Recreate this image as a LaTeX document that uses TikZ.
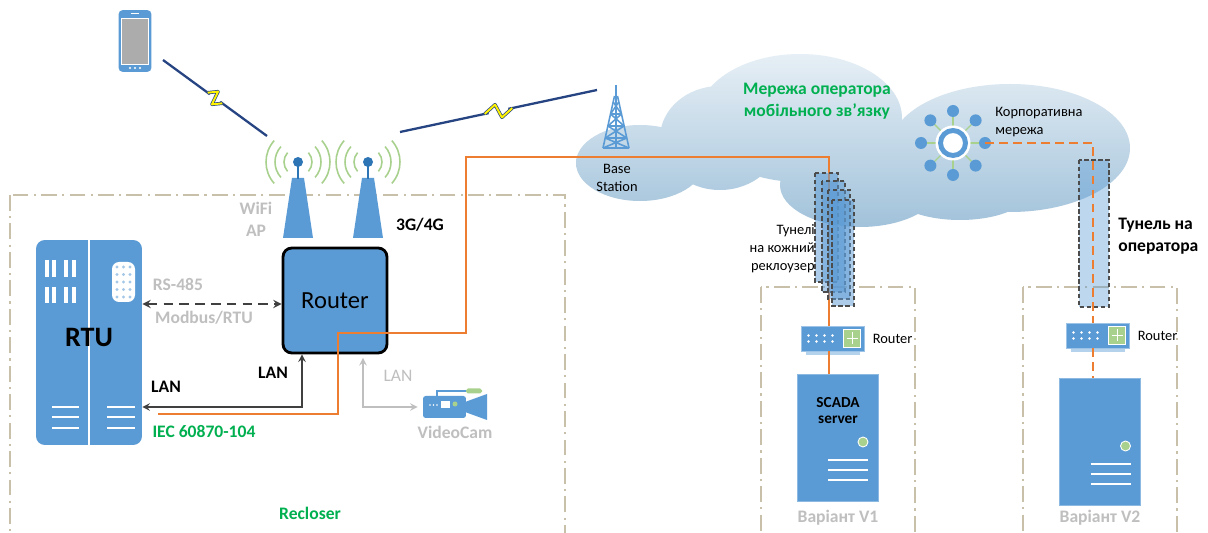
\documentclass[tikz,border=0pt]{standalone}
\usepackage{fontspec}
\setmainfont{Carlito}
\usepackage{tikz}
\usetikzlibrary{shapes, calc}
\definecolor{iconblue}{RGB}{91, 155, 213}
\definecolor{deepblue}{RGB}{46, 117, 182}
\definecolor{navy}{RGB}{38, 68, 130}
\definecolor{leaf}{RGB}{0, 176, 80}
\definecolor{paleleaf}{RGB}{169, 209, 142}
\definecolor{faint}{RGB}{191, 191, 191}
\definecolor{fiber}{RGB}{237, 125, 49}
\definecolor{frame}{RGB}{200, 192, 168}
\definecolor{cloudtop}{RGB}{232, 240, 246}
\definecolor{cloudbot}{RGB}{158, 192, 217}
\newcommand*{\px}{0.02cm}
\newcommand*{\lblfont}{\fontsize{10}{12.5}\selectfont}
\newcommand*{\smallfont}{\fontsize{8.2}{10.2}\selectfont}
% radio link with a spark in the middle
\newcommand*{\bolt}[2]{%
  \draw[signal] (#1) -- ($(#1)!0.45!(#2)$);
  \draw[signal] ($(#1)!0.55!(#2)$) -- (#2);
  \draw[spark] ($(#1)!0.43!(#2)$) -- ($(#1)!0.49!(#2)!0.14cm!90:(#2)$)
    -- ($(#1)!0.51!(#2)!0.14cm!-90:(#2)$) -- ($(#1)!0.57!(#2)$);
}

\begin{document}
\begin{tikzpicture}[
   x=\px, y=-\px,
   lbl/.style={font=\lblfont\bfseries, inner sep=0},
   faintlbl/.style={lbl, text=faint},
   greenlbl/.style={lbl, text=leaf},
   small/.style={font=\smallfont, inner sep=0},
   recframe/.style={draw=frame, line width=0.9pt,
                    dash pattern=on 9pt off 3pt on 1.2pt off 3pt},
   fiber/.style={draw=fiber, line width=0.9pt},
   fiberdash/.style={draw=fiber, line width=1.1pt, dash pattern=on 5pt off 3pt},
   serial/.style={draw=black!75, line width=1.1pt, dash pattern=on 5.5pt off 3.5pt,
                  <->, >=stealth},
   lan/.style={draw=black!75, line width=0.9pt, <->, >=stealth},
   lanfaint/.style={draw=faint, line width=0.9pt, <->, >=stealth},
   signal/.style={draw=navy, line width=1.3pt},
   spark/.style={draw=navy, double=yellow, double distance=1.1pt, line width=0.4pt,
                 line join=round},
   radio/.style={draw=paleleaf, line width=0.9pt},
   tunnel/.style={draw=black!70, line width=0.8pt, dash pattern=on 2.5pt off 1.5pt,
                  fill=iconblue, fill opacity=0.5},
   rtubox/.style={rectangle, rounded corners=5pt, fill=iconblue,
                  minimum width=2.12cm, minimum height=4.1cm},
   rtrbox/.style={rectangle, rounded corners=5pt, draw=black, line width=1.6pt,
                  fill=iconblue, minimum width=2.08cm, minimum height=2.1cm,
                  font=\fontsize{14}{16}\selectfont},
   rtricon/.style={rectangle, fill=iconblue, draw=iconblue!60!white, line width=0.4pt,
                   minimum width=1.26cm, minimum height=0.5cm},
   server/.style={rectangle, fill=iconblue, draw=iconblue!70!white, line width=0.4pt,
                  minimum width=1.62cm, minimum height=2.54cm},
   camera/.style={rectangle, rounded corners=1.5pt, fill=iconblue,
                  minimum width=0.86cm, minimum height=0.44cm},
   handset/.style={rectangle, rounded corners=2.5pt, fill=iconblue,
                   minimum width=0.66cm, minimum height=1.24cm},
   sat/.style={circle, fill=iconblue, minimum size=0.24cm, inner sep=0}
  ]

  \useasboundingbox (0,0) rectangle (1208,533);
  \clip (0,0) rectangle (1208,533);
  \fill[white] (0,0) rectangle (1208,533);

  % operator cloud
  \begin{scope}
    \clip (640,163) ellipse [x radius=64, y radius=38]
          (720,138) ellipse [x radius=60, y radius=52]
          (800,118) ellipse [x radius=102, y radius=64]
          (860,185) ellipse [x radius=80, y radius=42]
          (1010,148) ellipse [x radius=120, y radius=64]
          (960,190) ellipse [x radius=70, y radius=30];
    \shade[top color=cloudtop, bottom color=cloudbot] (570,50) rectangle (1140,235);
  \end{scope}

  % sites
  \draw[recframe] (10,195) rectangle (565,560);
  \draw[recframe] (761,287) rectangle (915,560);
  \draw[recframe] (1023,287) rectangle (1177,560);

  % phone
  \node (phone) at (135,41) [handset] {};
  \fill[gray!65, draw=white, line width=0.5pt] (121,18) rectangle (148,64);
  \draw[white, line width=0.8pt] (131,13.5) -- (139,13.5);
  \foreach \dx in {130,135,140} \fill[white] (\dx,68) circle (1.1);

  % antennas
  \coordinate (wifiant) at (298,162);
  \coordinate (cellant) at (368,162);
  \foreach \ax in {298, 368} {
    \foreach \r in {14, 23, 32} {
      \draw[radio] (\ax,162) ++(-42:\r) arc[start angle=-42, end angle=42, radius=\r];
      \draw[radio] (\ax,162) ++(138:\r) arc[start angle=138, end angle=222, radius=\r];
    }
    \fill[iconblue] (\ax-6,178) -- (\ax+6,178) -- (\ax+15,238) -- (\ax-15,238) -- cycle;
    \draw[deepblue, line width=1.5pt] (\ax,162) -- (\ax,179);
    \fill[deepblue] (\ax,162) circle (5);
  }

  % base station
  \coordinate (bs) at (616,88);
  \begin{scope}[shift={(616,88)}, iconblue, line width=0.9pt]
    \draw (0,-3) -- (0,60);
    \draw (-1.5,8) -- (-13,60) (1.5,8) -- (13,60);
    \foreach \ya/\wa/\yb/\wb in {14/2.8/26/5.5, 26/5.5/38/8.1,
                                 38/8.1/50/10.8, 50/10.8/60/13} {
      \draw (-\wa,\ya) -- (\wb,\yb) (\wa,\ya) -- (-\wb,\yb) (-\wb,\yb) -- (\wb,\yb);
    }
  \end{scope}

  \coordinate (phonesig) at (163,60);
  \coordinate (wifisig) at (267,136);
  \coordinate (cellsig) at (400,132);
  \coordinate (bssig) at (597,90);
  \bolt{phonesig}{wifisig}
  \bolt{cellsig}{bssig}

  % RTU
  \node (rtu) at (89,342.5) [rtubox] {};
  \draw[white, line width=0.8pt] (89,240) -- (89,445);
  \foreach \bx in {47,54,66,74} {
    \draw[white, line width=1.8pt] (\bx,260) -- (\bx,277) (\bx,287) -- (\bx,303);
  }
  \fill[white, rounded corners=4pt] (112,262) rectangle (135,302);
  \foreach \i in {0,1,2} \foreach \j in {0,...,4} {
    \fill[iconblue!55] (117+\i*6.5,267+\j*7.5) circle (1.6);
  }
  \foreach \yy in {407,417,428} {
    \draw[white, line width=1.4pt] (52,\yy) -- (79,\yy) (107,\yy) -- (135,\yy);
  }
  \node (rtulbl) at (89,337) [font=\fontsize{16}{18}\selectfont\bfseries] {RTU};

  % router
  \node (rtr) at (335,300.5) [rtrbox] {Router};

  % camera
  \node (cam) at (444.5,407) [camera] {};
  \fill[iconblue] (465,402) -- (487,394) -- (487,420) -- (465,412) -- cycle;
  \draw[iconblue, line width=0.6pt] (437,396) -- (437,391) -- (467,391);
  \fill[paleleaf, rounded corners=1pt] (466,388.5) rectangle (482,393.5);
  \foreach \dx in {430,433.5,437} \fill[white] (\dx,405) circle (0.9);
  \fill[white] (441,401) rectangle (450,408);
  \fill[paleleaf] (455,404) circle (2.5);

  % corporate network
  \coordinate (hubc) at (953,143);
  \foreach \a [count=\k] in {0,45,...,315} {
    \draw[paleleaf, line width=0.8pt] (hubc) -- ++(\a:32);
    \node (sat\k) at ([shift={(\a:32)}]hubc) [sat] {};
  }
  \fill[white] (hubc) circle (17.5);
  \node (hub) at (hubc) [circle, draw=iconblue, line width=2.8pt, fill=white,
                         minimum size=0.5cm] {};

  % links
  \coordinate (rtuport) at (158,414);
  \draw[fiber] (rtuport) -| (338,333) -| (466,157) -| (829,330);
  \draw[serial] (rtu.east |- 0,304) -- (rtr.west |- 0,304);
  \draw[lan] (rtr.south -| 302,0) |- (rtu.east |- 0,407);
  \draw[lanfaint, shorten <=2pt] (rtr.south -| 363,0) |- ([xshift=-5*\px]cam.west);

  % tunnels
  \foreach \xa/\ya/\xb/\yb in {815/173/838/282, 822/181/845/292,
                               828/190/850/299, 832/200/854/306} {
    \draw[tunnel] (\xa,\ya) rectangle (\xb,\yb);
  }
  \draw[tunnel, fill opacity=0.4] (1079,160) rectangle (1109,307);

  % control centres
  \foreach \nm/\cx/\cy in {rtv1/832.5/338.5, rtv2/1097.5/335.5} {
    \node (\nm) at (\cx,\cy) [rtricon] {};
    \foreach \i in {0,...,3} {
      \fill[white] (\cx-24+\i*8,\cy-3) circle (1.3);
      \fill[white] (\cx-24+\i*8,\cy+3) circle (1.3);
    }
    \fill[paleleaf, draw=white, line width=0.4pt] (\cx+11,\cy-9) rectangle (\cx+28,\cy+9);
    \draw[white, line width=0.4pt] (\cx+14,\cy) -- (\cx+25,\cy)
                                   (\cx+19.5,\cy-6) -- (\cx+19.5,\cy+6);
    \draw[iconblue!45, line width=1.2pt] (\cx-27,\cy+15) -- (\cx+27,\cy+15);
    \node (lbl\nm) at (\cx+40,\cy) [small, anchor=west] {Router};
  }
  \foreach \nm/\cx/\cy in {srv1/837.5/437.5, srv2/1100/441.5} {
    \node (\nm) at (\cx,\cy) [server] {};
    \fill[paleleaf, draw=white, line width=0.5pt] (\cx+25.5,\cy+4.5) circle (5);
    \foreach \dy in {22.5,32.5,42.5} {
      \draw[white, line width=1.2pt] (\cx-9.5,\cy+\dy) -- (\cx+30.5,\cy+\dy);
    }
  }
  \draw[fiber] (rtv1.south -| 829,0) -- (srv1.north -| 829,0);
  \draw[fiberdash] (sat1.center) -| (rtv2.north -| 1093,0);
  \draw[fiberdash] (rtv2.south -| 1093,0) -- (srv2.north -| 1093,0);

  % labels
  \node (wifilbl) at (256,219) [faintlbl, align=center] {WiFi\\AP};
  \node (celllbl) at (420,225) [lbl] {3G/4G};
  \node (rslbl) at (178,285) [faintlbl] {RS-485};
  \node (mblbl) at (204,318) [faintlbl] {Modbus/RTU};
  \node (lanrtr) at (273,373) [lbl] {LAN};
  \node (lanrtu) at (166,387) [lbl] {LAN};
  \node (lancam) at (398,376) [faintlbl, font=\lblfont] {LAN};
  \node (iec) at (204,432) [greenlbl] {IEC 60870-104};
  \node (camlbl) at (455,432) [faintlbl] {VideoCam};
  \node (reclbl) at (310,513) [greenlbl] {Recloser};
  \node (bslbl) at (617,178) [small, align=center] {Base\\Station};
  \node (netlbl) at (817,101) [greenlbl, align=center] {Мережа оператора\\мобільного зв’язку};
  \node (hublbl) at (995,122) [small, anchor=west, align=left] {Корпоративна\\мережа};
  \node (tunlbl) at (815,249) [small, anchor=east, align=right] {Тунелі\\на кожний\\реклоузер};
  \node (tun2lbl) at (1118,236) [lbl, anchor=west, align=left] {Тунель на\\оператора};
  \node (scada) at (838,410.5) [font=\fontsize{8.7}{9.6}\selectfont\bfseries,
                                align=center, inner sep=0] {SCADA\\server};
  \node (var1) at (838,518) [faintlbl] {Варіант V1};
  \node (var2) at (1100,518) [faintlbl] {Варіант V2};

\end{tikzpicture}
\end{document}
